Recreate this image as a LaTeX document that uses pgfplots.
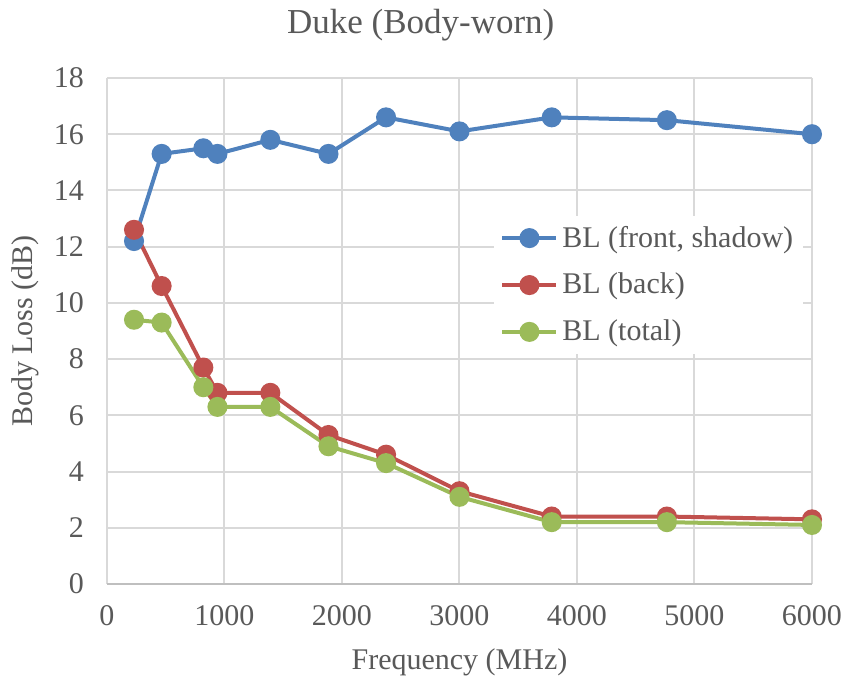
\documentclass[border=0pt]{standalone}
\usepackage{fontspec}
\setmainfont{Liberation Serif}
\usepackage{pgfplots}
\pgfplotsset{compat=1.18}
\definecolor{cblue}{HTML}{4F81BD}
\definecolor{cred}{HTML}{C0504D}
\definecolor{cgreen}{HTML}{9BBB59}
\definecolor{ctext}{HTML}{595959}
\definecolor{cgrid}{HTML}{D9D9D9}
\definecolor{caxis}{HTML}{BFBFBF}
\begin{document}
\begin{tikzpicture}
\begin{axis}[
  at={(0pt,0pt)}, anchor=south west,
  scale only axis, width=352.5pt, height=253pt,
  xmin=0, xmax=6000, ymin=0, ymax=18,
  xtick={0,1000,...,6000}, ytick={0,2,...,18},
  grid=major, major grid style={cgrid, line width=1pt},
  axis lines*=left,
  x axis line style={caxis, line width=1pt},
  y axis line style={draw=none},
  major tick length=0pt,
  /pgf/number format/assume math mode=true,
  /pgf/number format/1000 sep={},
  tick label style={font=\fontsize{15}{18}\selectfont, text=ctext},
  yticklabel style={xshift=-8pt},
  xticklabel style={yshift=-7pt},
  title={Duke (Body-worn)},
  every axis title shift=0pt,
  title style={at={(axis description cs:0.445,1.105)}, anchor=center, font=\fontsize{17.5}{21}\selectfont, text=ctext},
  xlabel={Frequency (MHz)},
  xlabel style={at={(axis description cs:0.5,-0.154)}, anchor=center, font=\fontsize{15}{18}\selectfont, text=ctext},
  ylabel={Body Loss (dB)},
  ylabel style={at={(axis description cs:-0.116,0.5)}, anchor=center, font=\fontsize{15}{18}\selectfont, text=ctext},
  legend style={at={(axis description cs:0.549,0.728)}, anchor=north west, fill=white, draw=none,
    font=\fontsize{15}{18}\selectfont, text=ctext, row sep=7.5pt, inner sep=3pt,
    /tikz/every even column/.append style={column sep=2pt}},
  legend cell align=left,
  legend image code/.code={\draw[mark repeat=2,mark phase=2] plot coordinates {(0pt,0pt) (13.5pt,0pt) (27pt,0pt)};},
  every axis plot/.append style={line width=2pt, mark=*, mark size=4pt, mark options={solid}},
]
\addplot[cblue, mark options={fill=cblue, draw=cblue}] coordinates {
 (230,12.2) (465,15.3) (820,15.5) (940,15.3) (1390,15.8) (1885,15.3) (2375,16.6) (3000,16.1) (3785,16.6) (4765,16.5) (6000,16.0)};
\addlegendentry{BL (front, shadow)}
\addplot[cred, mark options={fill=cred, draw=cred}] coordinates {
 (230,12.6) (465,10.6) (820,7.7) (940,6.8) (1390,6.8) (1885,5.3) (2375,4.6) (3000,3.3) (3785,2.4) (4765,2.4) (6000,2.3)};
\addlegendentry{BL (back)}
\addplot[cgreen, mark options={fill=cgreen, draw=cgreen}] coordinates {
 (230,9.4) (465,9.3) (820,7.0) (940,6.3) (1390,6.3) (1885,4.9) (2375,4.3) (3000,3.1) (3785,2.2) (4765,2.2) (6000,2.1)};
\addlegendentry{BL (total)}
\end{axis}
\pgfresetboundingbox
\path[use as bounding box] (-53.5pt,-48pt) rectangle (370.5pt,292pt);
\end{tikzpicture}
\end{document}
